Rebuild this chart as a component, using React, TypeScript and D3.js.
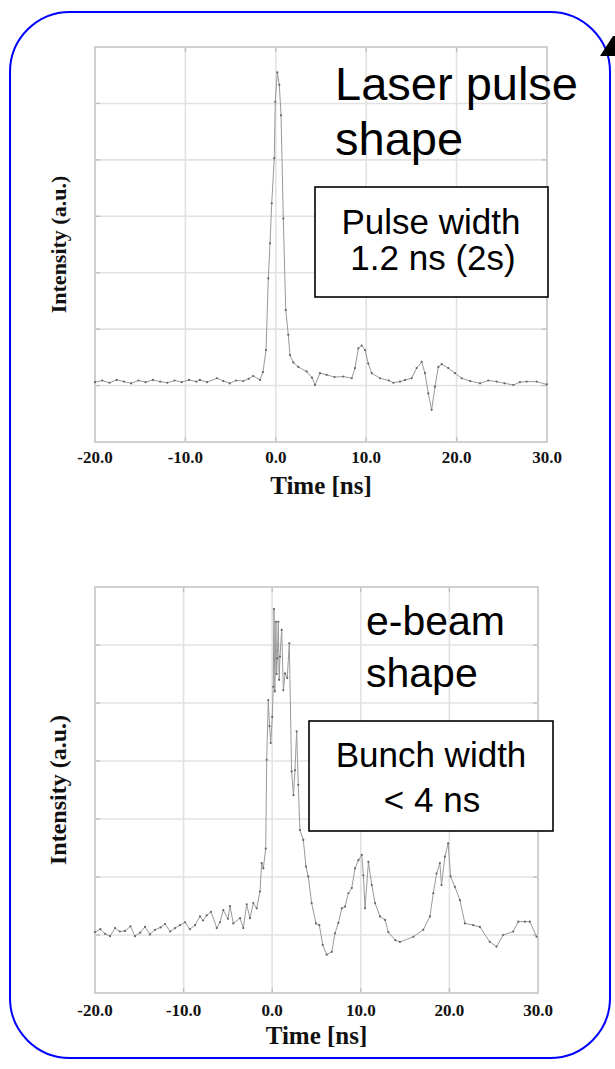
import React from "react";
import * as d3 from "d3";

// ---- Data ----
const xTickValues = [-20, -10, 0, 10, 20, 30];
const yGridValues = [0, 1, 2, 3, 4, 5, 6, 7];

const laserTime = [
  -20.0, -19.2, -18.4, -17.6, -16.8, -16.0, -15.2, -14.4, -13.6, -12.8, -12.0, -11.2, -10.4, -9.6, -8.8,
  -8.4, -7.6, -6.5, -5.8, -5.1, -4.4, -3.6, -3.0, -2.5, -1.75, -1.42, -1.08, -0.83, -0.64, -0.45, -0.17,
  -0.06, 0.17, 0.39, 0.58, 0.83, 1.1, 1.38, 1.57, 1.94, 2.49, 3.41, 4.0, 4.34, 4.89, 5.63, 6.5, 7.47, 8.4,
  8.76, 9.13, 9.5, 9.87, 10.23, 10.61, 11.53, 12.5, 13.0, 13.74, 14.3, 15.03, 15.58, 16.14, 16.5, 16.87,
  17.24, 17.61, 17.98, 18.35, 19.08, 19.82, 20.56, 21.5, 22.59, 23.5, 24.43, 25.3, 26.27, 27.0, 27.75,
  28.86, 29.97,
];
const laserIntensity = [
  1.06, 1.09, 1.05, 1.1, 1.07, 1.04, 1.09, 1.06, 1.1, 1.07, 1.05, 1.09, 1.06, 1.1, 1.07,
  1.1, 1.06, 1.13, 1.08, 1.04, 1.09, 1.08, 1.12, 1.17, 1.1, 1.24, 1.63, 2.9, 3.52, 4.23, 5.03,
  6.03, 6.55, 6.33, 5.79, 3.96, 2.34, 1.9, 1.54, 1.41, 1.33, 1.25, 1.14, 1.01, 1.22, 1.19, 1.15, 1.16, 1.13,
  1.31, 1.66, 1.71, 1.63, 1.39, 1.22, 1.13, 1.09, 1.05, 1.07, 1.1, 1.13, 1.31, 1.42, 1.22, 0.86,
  0.57, 0.98, 1.33, 1.38, 1.31, 1.22, 1.13, 1.08, 1.04, 1.09, 1.07, 1.04, 1.01, 1.06, 1.07,
  1.07, 1.02,
];

const beamTime = [
  -20.0, -19.4, -18.87, -18.3, -17.74, -17.2, -16.61, -16.0, -15.49, -14.9, -14.36, -13.8, -13.23, -12.6,
  -12.1, -11.5, -10.97, -10.4, -9.84, -9.3, -8.71, -8.15, -7.8, -7.39, -6.9, -6.26, -5.9, -5.52, -5.0,
  -4.76, -4.39, -3.63, -3.26, -2.88, -2.51, -2.13, -1.75, -1.38, -1.19, -1.0, -0.73, -0.62, -0.44, -0.3,
  -0.17, 0.01, 0.12, 0.2, 0.3, 0.42, 0.5, 0.57, 0.69, 0.78, 0.88, 1.07, 1.26, 1.45, 1.7, 1.93, 2.19, 2.4,
  2.57, 2.76, 2.94, 3.13, 3.51, 3.81, 4.07, 4.45, 4.94, 5.32, 5.7, 6.15, 6.72, 7.09, 7.47, 7.85, 8.22, 8.6,
  8.98, 9.35, 9.73, 10.11, 10.29, 10.48, 10.86, 11.24, 11.61, 12.17, 12.74, 13.1, 13.9, 14.42, 15.93,
  17.05, 17.8, 18.18, 18.55, 18.92, 19.11, 19.49, 19.86, 20.13, 20.62, 21.19, 21.75, 22.69, 23.44, 24.56,
  25.32, 26.07, 27.2, 27.77, 28.52, 29.08, 29.84,
];
const beamIntensity = [
  1.05, 1.1, 1.02, 0.98, 1.12, 1.06, 1.07, 1.15, 0.98, 1.04, 1.14, 1.01, 1.09, 1.13,
  1.19, 1.06, 1.12, 1.17, 1.22, 1.1, 1.17, 1.32, 1.25, 1.34, 1.4, 1.12, 1.22, 1.43, 1.28,
  1.5, 1.2, 1.29, 1.12, 1.53, 1.29, 1.55, 1.46, 1.75, 2.24, 2.15, 2.49, 4.02, 5.05, 4.6,
  4.31, 4.76, 5.28, 6.62, 5.2, 6.4, 5.5, 5.77, 6.4, 5.4, 5.8, 6.26, 5.22, 5.51, 5.43, 6.03, 3.82, 3.41,
  3.84, 4.51, 3.59, 2.81, 2.64, 2.18, 2.01, 1.55, 1.2, 1.17, 0.83, 0.66, 0.71, 1.03, 1.21, 1.46, 1.49, 1.72,
  1.81, 2.15, 2.29, 2.38, 2.03, 1.46, 2.26, 1.86, 1.55, 1.32, 1.26, 1.05, 0.91, 0.88, 0.97,
  1.09, 1.32, 1.72, 2.06, 2.24, 1.86, 2.35, 2.58, 2.01, 1.83, 1.6, 1.2, 1.17, 1.14, 0.88,
  0.8, 1.0, 1.06, 1.23, 1.23, 1.23, 0.97,
];

type Box = { left: number; right: number; top: number; bottom: number };

function Trace(props: {
  box: Box;
  times: number[];
  values: number[];
  tickBaseline: number;
  titleBaseline: number;
  yLabelSize: number;
}) {
  const { box, times, values, tickBaseline, titleBaseline, yLabelSize } = props;
  const x = d3.scaleLinear().domain([-20, 30]).range([box.left, box.right]);
  const y = d3.scaleLinear().domain([0, 7]).range([box.bottom, box.top]);
  const pts = times.map((t, i) => [t, values[i]] as [number, number]);
  const line = d3
    .line<[number, number]>()
    .x((d) => x(d[0]))
    .y((d) => y(d[1]));
  const cy = (box.top + box.bottom) / 2;
  const cx = (box.left + box.right) / 2;
  const serif = "'Liberation Serif', 'Times New Roman', serif";
  return (
    <g>
      {yGridValues.map((v) => (
        <line key={"h" + v} x1={box.left} x2={box.right} y1={y(v)} y2={y(v)} stroke="#e2e2e2" strokeWidth={1.6} />
      ))}
      {xTickValues.map((v) => (
        <line key={"v" + v} x1={x(v)} x2={x(v)} y1={box.top} y2={box.bottom} stroke="#e2e2e2" strokeWidth={1.6} />
      ))}
      {yGridValues.map((v) => (
        <g key={"t" + v}>
          <line x1={box.left} x2={box.left + 5} y1={y(v)} y2={y(v)} stroke="#bbb" strokeWidth={1.2} />
          <line x1={box.right - 5} x2={box.right} y1={y(v)} y2={y(v)} stroke="#bbb" strokeWidth={1.2} />
        </g>
      ))}
      {xTickValues.map((v) => (
        <g key={"tx" + v}>
          <line x1={x(v)} x2={x(v)} y1={box.bottom - 5} y2={box.bottom} stroke="#bbb" strokeWidth={1.2} />
          <line x1={x(v)} x2={x(v)} y1={box.top} y2={box.top + 5} stroke="#bbb" strokeWidth={1.2} />
        </g>
      ))}
      <rect
        x={box.left}
        y={box.top}
        width={box.right - box.left}
        height={box.bottom - box.top}
        fill="none"
        stroke="#d0d0d0"
        strokeWidth={2}
      />
      <path d={line(pts) || ""} fill="none" stroke="#9a9a9a" strokeWidth={1} />
      {pts.map((d, i) => (
        <circle key={"p" + i} cx={x(d[0])} cy={y(d[1])} r={1.1} fill="#666" />
      ))}
      {xTickValues.map((v) => (
        <text
          key={"l" + v}
          x={x(v)}
          y={tickBaseline}
          textAnchor="middle"
          fontFamily={serif}
          fontWeight="bold"
          fontSize={17}
          fill="#111"
        >
          {v.toFixed(1)}
        </text>
      ))}
      <text x={cx} y={titleBaseline} textAnchor="middle" fontFamily={serif} fontWeight="bold" fontSize={25} fill="#111">
        Time [ns]
      </text>
      <text
        transform={`translate(66,${cy}) rotate(-90)`}
        textAnchor="middle"
        fontFamily={serif}
        fontWeight="bold"
        fontSize={yLabelSize}
        fill="#111"
      >
        Intensity (a.u.)
      </text>
    </g>
  );
}

export default function App() {
  const sans = "'Liberation Sans', Arial, sans-serif";
  return (
    <svg width={615} height={1069} style={{ position: "absolute", left: 0, top: 0, background: "#fff" }}>
      <rect x={0} y={0} width={615} height={1069} fill="#fff" />
      <rect x={10} y={12} width={600} height={1046} rx={60} ry={60} fill="none" stroke="#0000ff" strokeWidth={2} />
      <polygon points="600,56 613,36 615,36 615,56" fill="#000" />

      <Trace
        box={{ left: 95, right: 547, top: 47, bottom: 442 }}
        times={laserTime}
        values={laserIntensity}
        tickBaseline={463}
        titleBaseline={494}
        yLabelSize={22}
      />
      <Trace
        box={{ left: 95, right: 538, top: 587, bottom: 993 }}
        times={beamTime}
        values={beamIntensity}
        tickBaseline={1016}
        titleBaseline={1044}
        yLabelSize={24}
      />

      <text x={335} y={100} fontFamily={sans} fontSize={47} fill="#000">Laser pulse</text>
      <text x={335} y={155} fontFamily={sans} fontSize={47} fill="#000">shape</text>
      <rect x={315} y={187} width={233} height={110} fill="#fff" stroke="#000" strokeWidth={1.6} />
      <text x={431} y={234} textAnchor="middle" fontFamily={sans} fontSize={35} fill="#000">Pulse width</text>
      <text x={433} y={270} textAnchor="middle" fontFamily={sans} fontSize={35} fill="#000">1.2 ns (2s)</text>

      <text x={366} y={635} fontFamily={sans} fontSize={41} fill="#000">e-beam</text>
      <text x={366} y={687} fontFamily={sans} fontSize={41} fill="#000">shape</text>
      <rect x={309} y={721} width={244} height={110} fill="#fff" stroke="#000" strokeWidth={1.6} />
      <text x={431} y={767} textAnchor="middle" fontFamily={sans} fontSize={35} fill="#000">Bunch width</text>
      <text x={432} y={812} textAnchor="middle" fontFamily={sans} fontSize={35} fill="#000">&lt; 4 ns</text>
    </svg>
  );
}
